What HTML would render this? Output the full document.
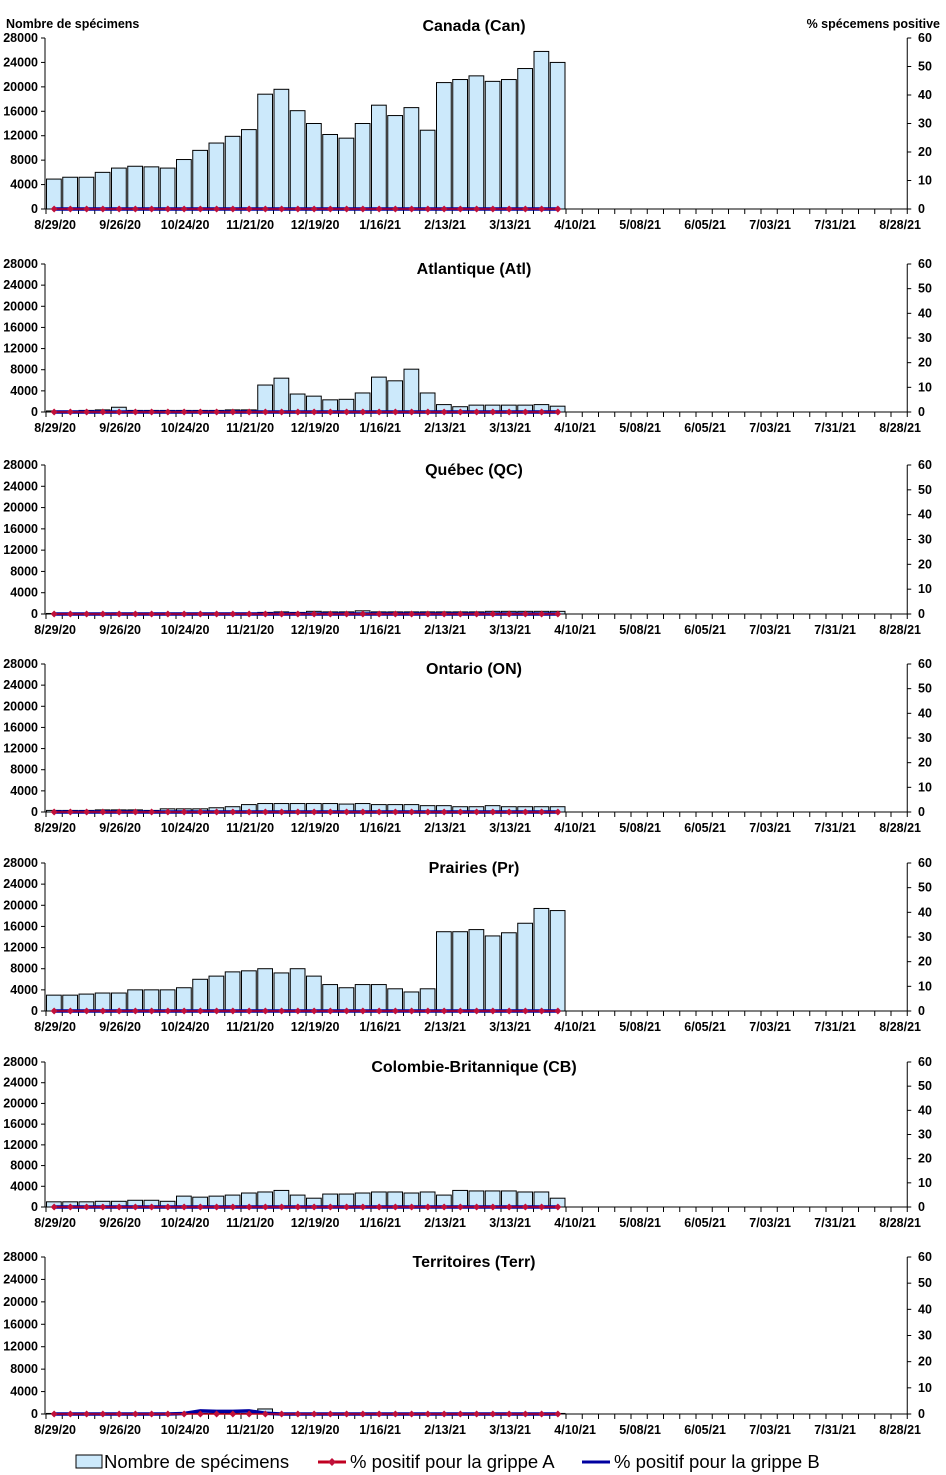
<!DOCTYPE html>
<html><head><meta charset="utf-8"><style>
body{margin:0;background:#fff;}
svg{display:block;font-family:"Liberation Sans",Arial,sans-serif;}
.t{font-size:12.5px;font-weight:bold;fill:#000;}
.ti{font-size:16px;font-weight:bold;fill:#000;}
</style></head><body>
<svg id="c" width="946" height="1475" viewBox="0 0 946 1475"></svg>
<script>
const panelNames = ["Canada (Can)","Atlantique (Atl)","Québec (QC)","Ontario (ON)","Prairies (Pr)","Colombie-Britannique (CB)","Territoires (Terr)"];
const canada = [4900,5200,5200,6000,6700,7000,6900,6700,8100,9600,10800,11900,13000,18800,19600,16100,14000,12200,11600,14000,17000,15300,16600,12900,20700,21200,21800,20900,21200,23000,25800,24000];
const atl = [200,200,300,400,900,300,300,300,300,300,300,400,400,5100,6400,3400,3000,2300,2400,3600,6600,5900,8100,3600,1400,1000,1300,1300,1300,1300,1400,1100];
const qc = [100,100,100,100,200,200,200,200,200,200,200,200,200,300,400,300,500,400,400,600,400,400,400,400,400,400,400,500,500,500,500,500];
const on = [300,300,300,400,400,400,300,600,600,600,800,1000,1400,1600,1600,1600,1600,1600,1500,1600,1400,1400,1400,1200,1200,1000,1000,1200,1000,1000,1000,1000];
const pr = [3000,3000,3200,3400,3400,4000,4000,4000,4400,6000,6600,7400,7600,8000,7200,8000,6600,5000,4400,5000,5000,4200,3600,4200,15000,15000,15400,14200,14800,16600,19400,19000];
const cb = [1000,1000,1000,1100,1100,1300,1300,1100,2100,1900,2100,2300,2700,2900,3200,2300,1700,2500,2500,2700,2900,2900,2700,2900,2300,3200,3100,3100,3100,2900,2900,1700];
const terr = [100,100,100,100,100,100,100,100,100,100,100,100,100,900,100,100,100,100,100,100,100,100,100,100,100,100,100,100,100,100,100,100];
const pctA = [0,0,0,0,0,0,0,0,0,0,0,0,0,0,0,0,0,0,0,0,0,0,0,0,0,0,0,0,0,0,0,0];
const pctB = [0,0,0,0,0,0,0,0,0,0,0,0,0,0,0,0,0,0,0,0,0,0,0,0,0,0,0,0,0,0,0,0];
const pctBTerr = [0,0,0,0,0,0,0,0,0.2,1.2,1,1,1.2,0.3,0,0,0,0,0,0,0,0,0,0,0,0,0,0,0,0,0,0];
const leftTicks = [0,4000,8000,12000,16000,20000,24000,28000];
const rightTicks = [0,10,20,30,40,50,60];
const xLabels = ["8/29/20","9/26/20","10/24/20","11/21/20","12/19/20","1/16/21","2/13/21","3/13/21","4/10/21","5/08/21","6/05/21","7/03/21","7/31/21","8/28/21"];
const panelData = [canada,atl,qc,on,pr,cb,terr];
const panelTop = [38,264,465,664,863,1062,1257];
const panelZero = [209,412,614,812,1011,1207,1414];
const svg = document.getElementById('c');
const NS = "http://www.w3.org/2000/svg";
const X0 = 46, SLOT = 16.25, NSLOT = 53, XR = X0 + SLOT*NSLOT;
function mk(tag, attrs, parent){const e=document.createElementNS(NS,tag);for(const k in attrs)e.setAttribute(k,attrs[k]);(parent||svg).appendChild(e);return e;}
function xs(i){return X0 + SLOT*i;}
function txt(s,x,y,cls,anchor,parent){const t=mk('text',{x:x,y:y,class:cls,'text-anchor':anchor},parent);t.textContent=s;return t;}
panelData.forEach((vals,p)=>{
  const g=mk('g',{});
  
  
  const top=panelTop[p], zero=panelZero[p];
  const yl=v=>zero-(v/28000)*(zero-top);
  const yr=v=>zero-(v/60)*(zero-top);
  const title=txt(panelNames[p],474,p==0?31:top+10,'ti','middle',g);
  
  
  vals.forEach((v,i)=>{
    const r=mk('rect',{x:xs(i)+0.5,y:yl(v),width:SLOT-1.5,height:zero-yl(v),fill:'#cce9fb',stroke:'#000','stroke-width':1},g);
    
    
  });
  mk('line',{x1:X0-1,y1:top,x2:X0-1,y2:zero,stroke:'#000'},g);
  mk('line',{x1:XR,y1:top,x2:XR,y2:zero,stroke:'#000'},g);
  mk('line',{x1:X0-1,y1:zero,x2:XR,y2:zero,stroke:'#000'},g);
  leftTicks.forEach(v=>{mk('line',{x1:X0-5,y1:yl(v),x2:X0-1,y2:yl(v),stroke:'#000'},g);txt(String(v),38,yl(v)+4,'t','end',g);});
  rightTicks.forEach(v=>{mk('line',{x1:XR,y1:yr(v),x2:XR+4,y2:yr(v),stroke:'#000'},g);txt(String(v),918,yr(v)+4,'t','start',g);});
  for(let i=0;i<=NSLOT;i++)mk('line',{x1:xs(i),y1:zero,x2:xs(i),y2:zero+5,stroke:'#000'},g);
  xLabels.forEach((s,k)=>txt(s,xs(k*4)+SLOT/2+1,zero+20,'t','middle',g));
  const bvals = p==6?pctBTerr:pctB;
  const bp=bvals.map((v,i)=>(xs(i)+SLOT/2)+','+yr(v)).join(' ');
  const bl=mk('polyline',{points:bp,fill:'none',stroke:'#0000a0','stroke-width':3.5},g);
  
  
  const ap=pctA.map((v,i)=>(xs(i)+SLOT/2)+','+yr(v)).join(' ');
  const al=mk('polyline',{points:ap,fill:'none',stroke:'#c00020','stroke-width':1.5},g);
  
  
  pctA.forEach((v,i)=>{const cx=xs(i)+SLOT/2,cy=yr(v);
    const d=mk('polygon',{points:`${cx},${cy-3.5} ${cx+3.5},${cy} ${cx},${cy+3.5} ${cx-3.5},${cy}`,fill:'#c0103a'},g);
    
    });
});
const yt=txt('Nombre de spécimens',6,28,'t','start');


const yt2=txt('% spécemens positive',940,28,'t','end');


const lg=mk('g',{});


mk('rect',{x:76,y:1455,width:26,height:13,fill:'#cce9fb',stroke:'#000'},lg);
txt('Nombre de spécimens',104,1468,'','start',lg).setAttribute('style','font-size:18.5px');
mk('line',{x1:318,y1:1462,x2:346,y2:1462,stroke:'#c00020','stroke-width':3},lg);
mk('polygon',{points:'332,1458 336,1462 332,1466 328,1462',fill:'#c0103a'},lg);
txt('% positif pour la grippe A',350,1468,'','start',lg).setAttribute('style','font-size:18.5px');
mk('line',{x1:582,y1:1462,x2:610,y2:1462,stroke:'#0000a0','stroke-width':3},lg);
txt('% positif pour la grippe B',614,1468,'','start',lg).setAttribute('style','font-size:18.5px');
</script>
</body></html>
